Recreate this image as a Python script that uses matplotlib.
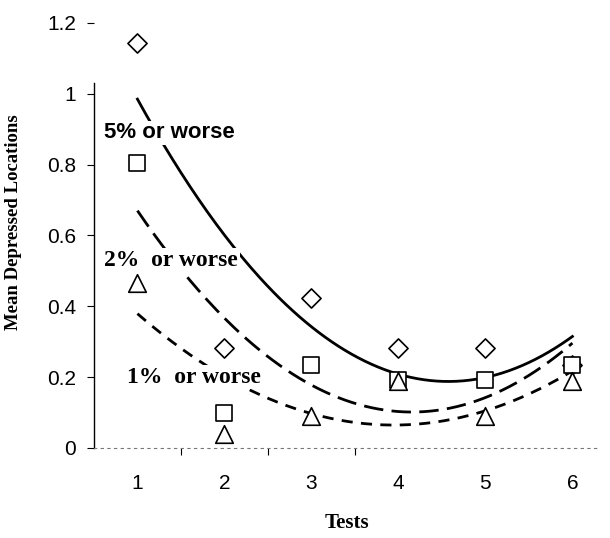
import numpy as np
import matplotlib
matplotlib.use('Agg')
import matplotlib.pyplot as plt

# 读取自图片的数据
tests = [1, 2, 3, 4, 5, 6]
worse_5 = [1.144, 0.283, 0.424, 0.283, 0.283, 0.234]   # 菱形
worse_2 = [0.805, 0.099, 0.234, 0.192, 0.192, 0.234]   # 方形
worse_1 = [0.466, 0.040, 0.090, 0.190, 0.090, 0.190]   # 三角形

y_ticks = [0, 0.2, 0.4, 0.6, 0.8, 1.0, 1.2]
y_ticklabels = ['0', '0.2', '0.4', '0.6', '0.8', '1', '1.2']

sans = 'Liberation Sans'
serif = 'Liberation Serif'

fig = plt.figure(figsize=(6.10, 5.38), dpi=100)
ax = fig.add_axes([0.154, 0.1673, 0.83, 0.790])

x = np.array(tests, dtype=float)
xs = np.linspace(1, 6, 200)

# 二次多项式趋势线（与原图Excel趋势线一致）
for vals, ls in [(worse_5, '-'), (worse_2, (0, (7, 3))), (worse_1, (0, (4, 3)))]:
	coef = np.polyfit(x, vals, 2)
	ax.plot(xs, np.polyval(coef, xs), color='black', lw=2.0, linestyle=ls, zorder=1)

# 数据点
ax.scatter(x, worse_5, marker='D', s=95, facecolor='white', edgecolor='black', linewidths=1.2, zorder=3)
ax.scatter(x, worse_2, marker='s', s=140, facecolor='white', edgecolor='black', linewidths=1.2, zorder=4)
ax.scatter(x, worse_1, marker='^', s=160, facecolor='white', edgecolor='black', linewidths=1.2, zorder=5)

# 标注（白底遮住曲线）
box = dict(facecolor='white', edgecolor='none', pad=1)
ax.text(0.62, 0.89, '5% or worse', fontsize=16, fontweight='bold', family=sans,
        va='center', ha='left', bbox=box, zorder=2)
ax.text(0.62, 0.53, '2%  or worse', fontsize=17, fontweight='bold', family=serif,
        va='center', ha='left', bbox=box, zorder=2)
ax.text(0.885, 0.20, '1%  or worse', fontsize=17, fontweight='bold', family=serif,
        va='center', ha='left', bbox=box, zorder=2)

ax.set_xlim(0.5, 6.32)
ax.set_ylim(0, 1.2)

ax.set_yticks(y_ticks)
ax.set_yticklabels(y_ticklabels, fontsize=15, family=sans)
ax.tick_params(axis='y', direction='out', length=5, width=0.8, pad=8)

ax.set_xticks(tests)
ax.set_xticklabels([str(t) for t in tests], fontsize=15, family=sans)
ax.tick_params(axis='x', length=0, pad=19)
# 类别分隔刻度
ax.set_xticks([1.5, 2.5, 3.5], minor=True)
ax.tick_params(axis='x', which='minor', direction='out', length=5, width=0.8)

ax.spines['top'].set_visible(False)
ax.spines['right'].set_visible(False)
ax.spines['left'].set_bounds(0, 1.03)
ax.spines['left'].set_linewidth(1.0)
ax.spines['bottom'].set_linestyle((0, (2, 4)))
ax.spines['bottom'].set_linewidth(0.8)
ax.spines['bottom'].set_color('#777777')

ax.set_xlabel('Tests', fontsize=15, fontweight='bold', family=serif, labelpad=14)
ax.set_ylabel('Mean Depressed Locations', fontsize=13.5, fontweight='bold', family=serif)
ax.yaxis.set_label_coords(-0.142, 0.531)

fig.savefig('out.png', dpi=100)
